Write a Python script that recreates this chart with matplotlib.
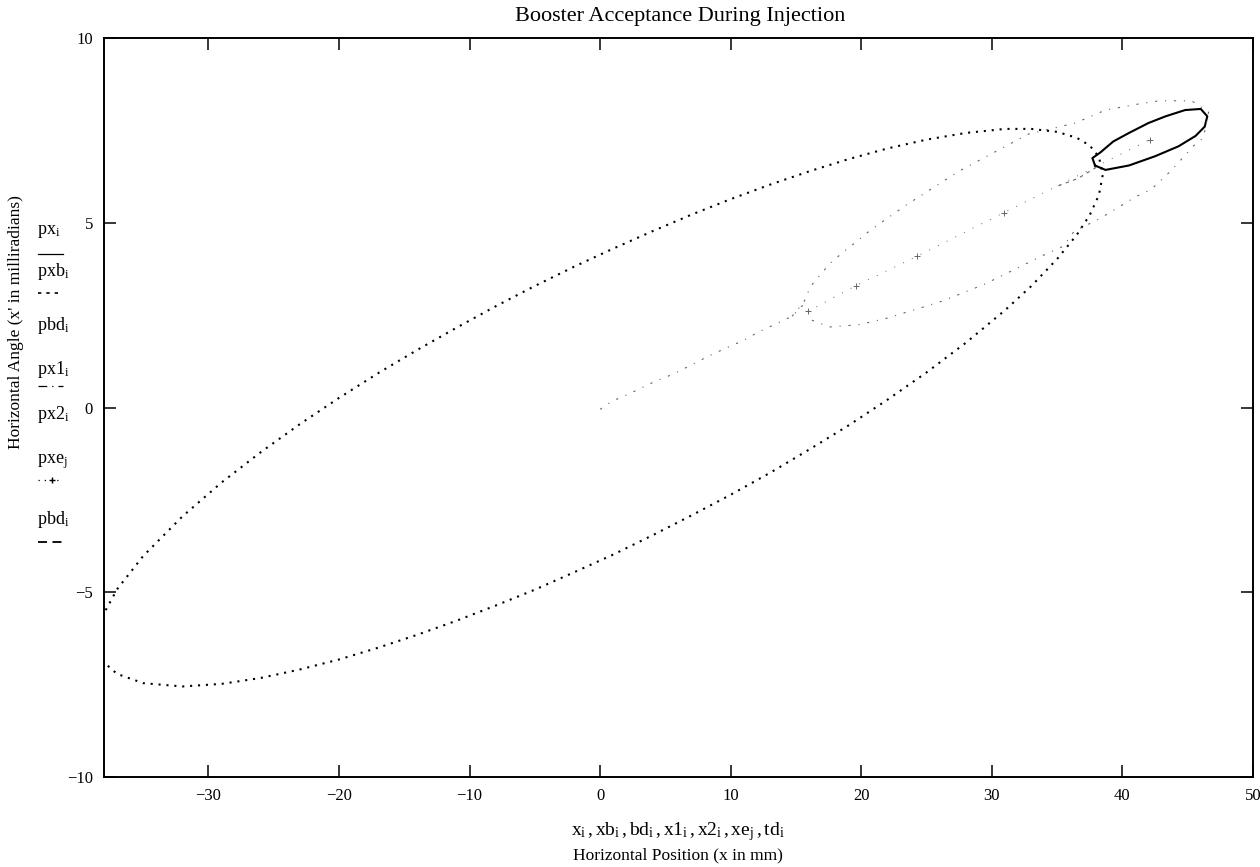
import matplotlib
matplotlib.use("Agg")
import matplotlib.pyplot as plt
from matplotlib.lines import Line2D

plt.rcParams['font.family'] = ['Liberation Serif', 'DejaVu Serif']
plt.rcParams['mathtext.fontset'] = 'custom'
plt.rcParams['mathtext.rm'] = 'Liberation Serif'
plt.rcParams['mathtext.it'] = 'Liberation Serif:italic'

W, H = 1260, 867

# booster acceptance ellipse (mm, mrad), upper branch then lower branch
bd_x = [-38.5, -38, -37, -35, -32, -29, -26, -23, -20, -17, -14, -11, -8, -5, -2,
        1, 4, 7, 10, 13, 16, 19, 22, 25, 28, 31, 33, 35, 36.5, 37.5, 38.2, 38.5,
        38.2, 37.5, 36.5, 35, 33, 31, 28, 25, 22, 19, 16, 13, 10, 7, 4, 1,
        -2, -5, -8, -11, -14, -17, -20, -23, -26, -29, -32, -35, -37, -38, -38.5]
bd_y = [-6.31, -5.57, -4.92, -4.02, -2.95, -2.03, -1.21, -0.45, 0.26, 0.93, 1.56, 2.16, 2.74, 3.29, 3.81,
        4.30, 4.77, 5.22, 5.64, 6.03, 6.39, 6.72, 7.01, 7.25, 7.43, 7.54, 7.54, 7.46, 7.30, 7.09, 6.78, 6.31,
        5.75, 5.21, 4.67, 4.02, 3.28, 2.63, 1.75, 0.95, 0.21, -0.49, -1.14, -1.77, -2.36, -2.92, -3.46, -3.98,
        -4.46, -4.93, -5.36, -5.77, -6.15, -6.50, -6.82, -7.09, -7.32, -7.48, -7.55, -7.46, -7.21, -6.90, -6.31]

# injected beam ellipse
px_x = [37.9, 37.7, 38.3, 39.3, 40.5, 42.0, 43.3, 44.8, 46.0, 46.5, 46.3, 45.6, 44.3, 42.5, 40.5, 38.7, 37.9]
px_y = [6.55, 6.75, 6.90, 7.20, 7.43, 7.70, 7.88, 8.05, 8.08, 7.88, 7.60, 7.35, 7.07, 6.80, 6.55, 6.43, 6.55]

# bump trajectory from the origin
x1_x = [0.0, 0.9, 2.1, 4.1, 5.1, 6.2, 6.8, 8.3, 9.4, 11.0, 12.0, 14.7, 15.7]
x1_y = [-0.05, 0.17, 0.35, 0.69, 0.83, 1.01, 1.12, 1.39, 1.57, 1.82, 2.02, 2.47, 2.83]

# outer beam envelope
x2_x = [14.7, 15.6, 16.1, 17.6, 18.7, 19.6, 20.7, 23.4, 27.5, 32.8, 36.4, 38.7, 41.0, 42.8, 45.3, 46.6,
        46.2, 45.5, 43.7, 42.2, 41.0, 38.2, 36.3, 35.5, 33.7, 31.7, 29.4, 26.2, 24.3, 22.0, 19.8, 17.6, 15.7]
x2_y = [2.47, 2.85, 3.27, 3.90, 4.23, 4.48, 4.80, 5.47, 6.40, 7.40, 7.70, 8.05, 8.20, 8.30, 8.30, 8.00,
        7.30, 7.10, 6.40, 5.90, 5.70, 5.10, 4.77, 4.37, 4.08, 3.73, 3.33, 2.88, 2.67, 2.42, 2.24, 2.18, 2.43]

# beam centroid
xe_x = [15.9, 19.6, 24.3, 30.9, 42.1]
xe_y = [2.60, 3.30, 4.10, 5.27, 7.25]

# septum edge
td_x = [35.1, 36.6, 38.0]
td_y = [6.00, 6.20, 6.50]

fig = plt.figure(figsize=(W / 100, H / 100), dpi=100)
ax = fig.add_axes([104 / W, 1 - 777 / H, (1253 - 104) / W, (777 - 38) / H])

ax.plot(bd_x, bd_y, color='black', lw=1.5, ls=(0, (1, 2.8)))
ax.plot(px_x, px_y, color='black', lw=1.5, solid_joinstyle='round')
ax.plot(x1_x, x1_y, color='0.4', lw=0.8, ls=(0, (2, 7, 1, 7)))
ax.plot(x2_x, x2_y, color='0.4', lw=0.8, ls=(0, (2, 7, 1, 7)))
ax.plot(xe_x, xe_y, color='0.4', lw=0.7, ls=(0, (1, 9)), marker='+', ms=4, mew=0.7)
ax.plot(td_x, td_y, color='0.4', lw=0.8, ls=(0, (3, 4)))

ax.set_xlim(-38, 50)
ax.set_ylim(-10, 10)
ax.set_xticks([-30, -20, -10, 0, 10, 20, 30, 40, 50])
ax.set_yticks([-10, -5, 0, 5, 10])
ax.set_xticklabels(['\u221230', '\u221220', '\u221210', '0', '10', '20', '30', '40', '50'])
ax.set_yticklabels(['\u221210', '\u22125', '0', '5', '10'])
ax.tick_params(direction='in', length=8.6, width=1.1, top=True, right=True, labelsize=12, pad=8)
for sp in ax.spines.values():
    sp.set_linewidth(1.4)

fig.text(680 / W, 1 - 16 / H, 'Booster Acceptance During Injection', ha='center', va='center', fontsize=16)
fig.text(678 / W, 1 - 832 / H,
         r'$\mathrm{x}_\mathrm{i}\,,\mathrm{xb}_\mathrm{i}\,,\mathrm{bd}_\mathrm{i}\,,\mathrm{x1}_\mathrm{i}\,,'
         r'\mathrm{x2}_\mathrm{i}\,,\mathrm{xe}_\mathrm{j}\,,\mathrm{td}_\mathrm{i}$',
         ha='center', va='center', fontsize=14)
fig.text(678 / W, 1 - 855 / H, 'Horizontal Position (x in mm)', ha='center', va='center', fontsize=12.5)
fig.text(16 / W, 1 - 322 / H, "Horizontal Angle (x' in milliradians)", rotation=90,
         ha='center', va='center', fontsize=12.5)

# series key down the left margin
key = [
    (r'$\mathrm{px}_\mathrm{i}$', 232, dict(ls='-', lw=0.9), 254),
    (r'$\mathrm{pxb}_\mathrm{i}$', 272, dict(ls=(0, (2, 3)), lw=1.2), 293),
    (r'$\mathrm{pbd}_\mathrm{i}$', 325, None, None),
    (r'$\mathrm{px1}_\mathrm{i}$', 370, dict(ls=(0, (7, 4, 1, 4)), lw=0.9), 386),
    (r'$\mathrm{px2}_\mathrm{i}$', 415, None, None),
    (r'$\mathrm{pxe}_\mathrm{j}$', 462, dict(ls=(0, (1, 4)), lw=0.9, marker='+', ms=4,
                                             markevery=[1]), 480),
    (r'$\mathrm{pbd}_\mathrm{i}$', 520, dict(ls=(0, (5, 3)), lw=1.3), 542),
]
for label, ty, style, ly in key:
    fig.text(37 / W, 1 - ty / H, label, ha='left', va='center', fontsize=13)
    if style is not None:
        fig.add_artist(Line2D([38 / W, 52 / W, 63 / W], [1 - ly / H] * 3,
                              transform=fig.transFigure, color='black', **style))

fig.savefig('out.png', dpi=100)
